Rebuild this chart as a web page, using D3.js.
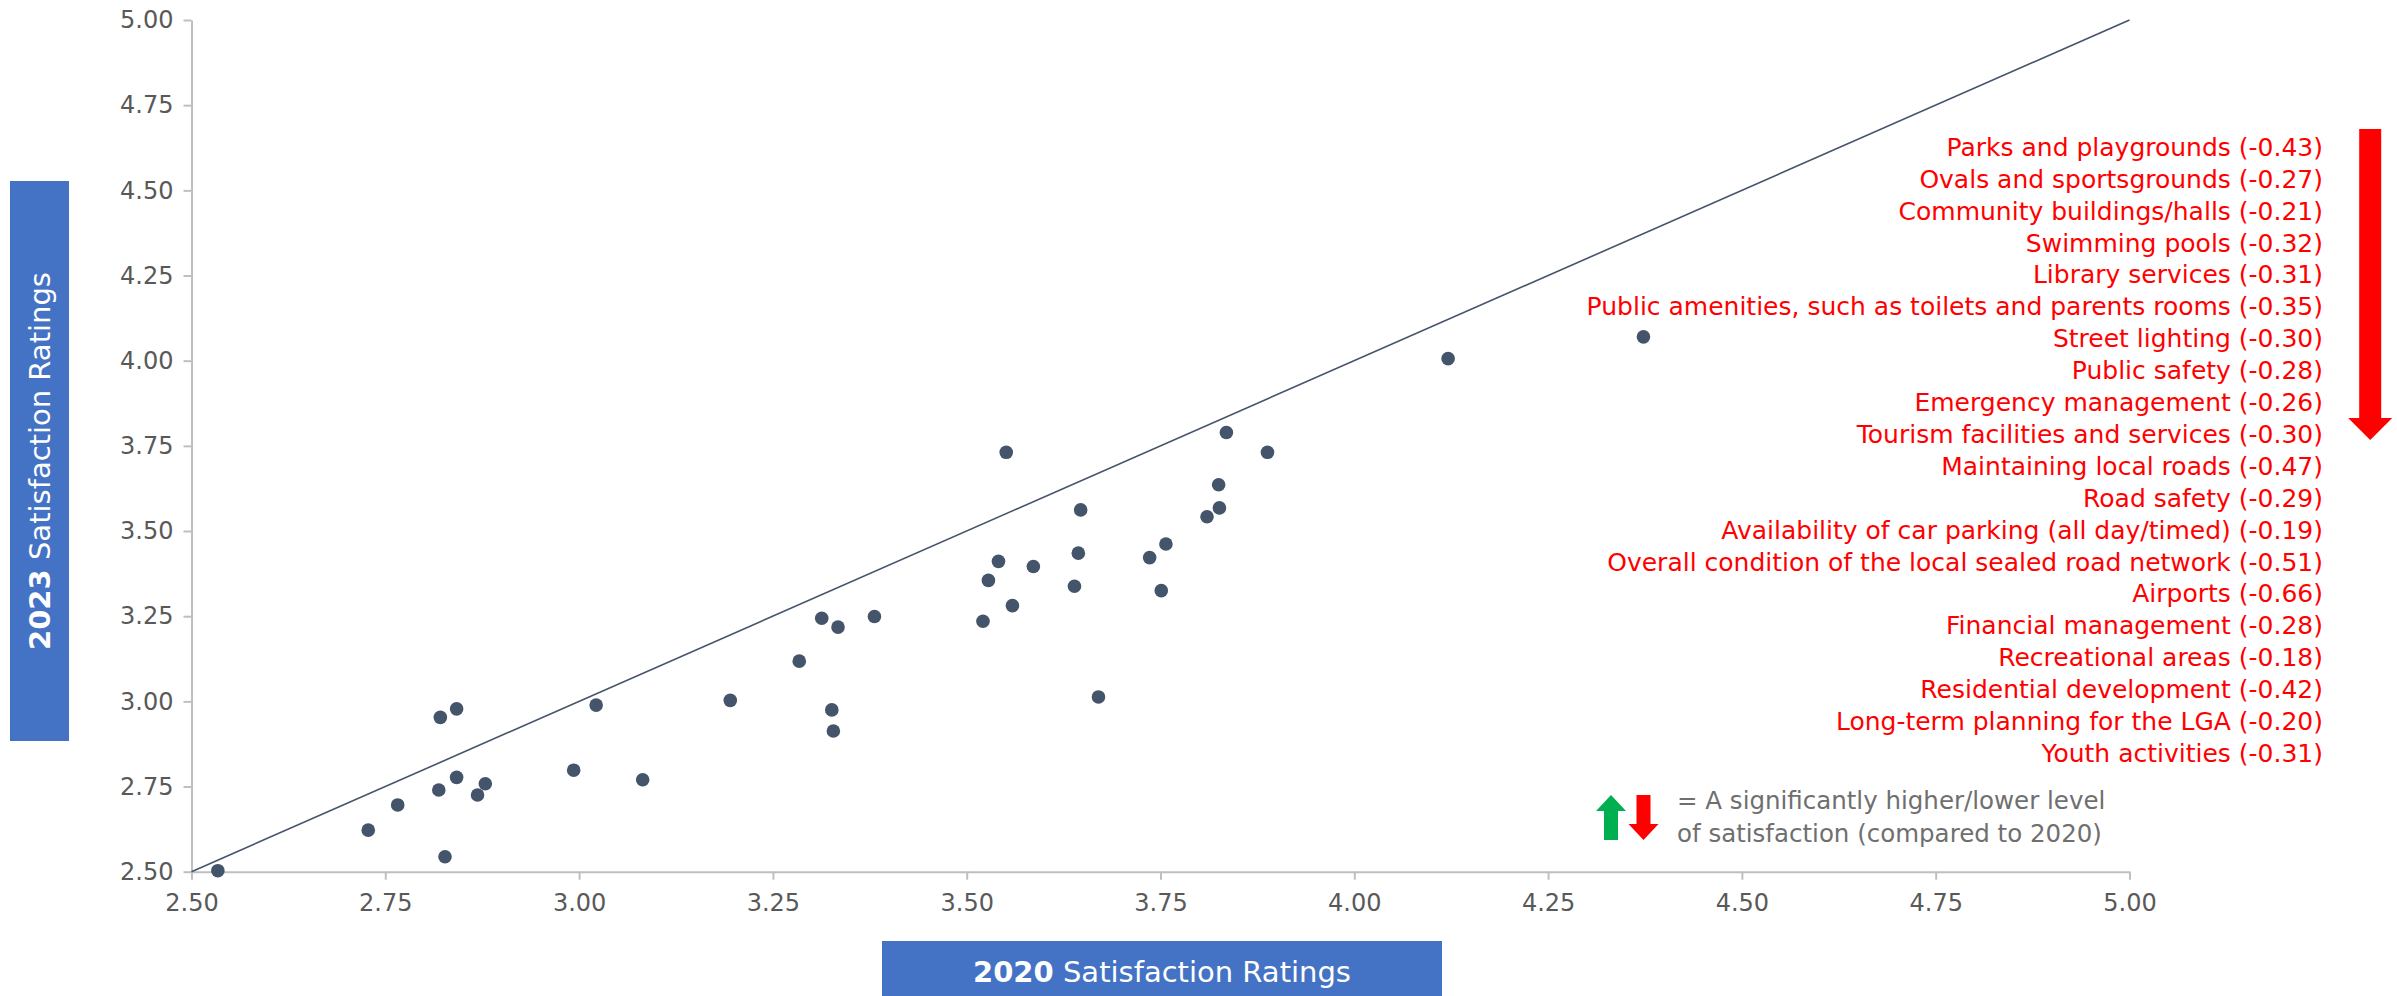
<!DOCTYPE html>
<html>
<head>
<meta charset="utf-8">
<script src="https://cdn.jsdelivr.net/npm/d3@7"></script>
<style>
  html, body { margin: 0; padding: 0; background: #ffffff; }
  svg { display: block; }
  text { font-family: "DejaVu Sans", "Liberation Sans", sans-serif; }
</style>
</head>
<body>
<svg id="chart" width="2397" height="996"></svg>
<script>
// 2020 vs 2023 satisfaction ratings for each council service area
const rating2020 = [
  2.534, 2.728, 2.766, 2.821, 2.842, 2.819, 2.842, 2.827, 2.869, 2.879,
  2.993, 3.022, 3.082, 3.195, 3.284, 3.313, 3.334, 3.381, 3.326, 3.328,
  3.521, 3.528, 3.541, 3.551, 3.559, 3.586, 3.639, 3.644, 3.647, 3.670,
  3.736, 3.757, 3.751, 3.810, 3.826, 3.825, 3.835, 3.888, 4.121, 4.373
];
const rating2023 = [
  2.503, 2.622, 2.696, 2.953, 2.978, 2.740, 2.777, 2.544, 2.725, 2.758,
  2.798, 2.989, 2.770, 3.003, 3.118, 3.244, 3.218, 3.249, 2.975, 2.913,
  3.235, 3.355, 3.411, 3.731, 3.281, 3.396, 3.338, 3.435, 3.562, 3.013,
  3.422, 3.462, 3.325, 3.542, 3.568, 3.636, 3.789, 3.731, 4.006, 4.070
];

// Axis ticks (both axes share the same scale)
const tickValues = [2.5, 2.75, 3.0, 3.25, 3.5, 3.75, 4.0, 4.25, 4.5, 4.75, 5.0];

// Services with a significantly lower level of satisfaction, and the change
const declineServices = [
  "Parks and playgrounds",
  "Ovals and sportsgrounds",
  "Community buildings/halls",
  "Swimming pools",
  "Library services",
  "Public amenities, such as toilets and parents rooms",
  "Street lighting",
  "Public safety",
  "Emergency management",
  "Tourism facilities and services",
  "Maintaining local roads",
  "Road safety",
  "Availability of car parking (all day/timed)",
  "Overall condition of the local sealed road network",
  "Airports",
  "Financial management",
  "Recreational areas",
  "Residential development",
  "Long-term planning for the LGA",
  "Youth activities"
];
const declineChanges = [
  -0.43, -0.27, -0.21, -0.32, -0.31, -0.35, -0.30, -0.28, -0.26, -0.30,
  -0.47, -0.29, -0.19, -0.51, -0.66, -0.28, -0.18, -0.42, -0.20, -0.31
];

const legendLines = [
  "= A significantly higher/lower level",
  "of satisfaction (compared to 2020)"
];

const points = rating2020.map((v, i) => ({ x: v, y: rating2023[i] }));

const svg = d3.select("#chart");
const navy = "#44546A";
const axisGrey = "#BFBFBF";
const labelGrey = "#595959";
const titleBlue = "#4472C4";
const red = "#FF0000";

const x = d3.scaleLinear().domain([2.5, 5]).range([191.5, 2129.5]);
const y = d3.scaleLinear().domain([2.5, 5]).range([871.7, 20]);

// Axes
const xAxis = svg.append("g")
  .attr("transform", `translate(0,${y(2.5)})`)
  .call(d3.axisBottom(x).tickValues(tickValues).tickFormat(d3.format(".2f")).tickSize(8).tickSizeOuter(0));
const yAxis = svg.append("g")
  .attr("transform", `translate(${x(2.5)},0)`)
  .call(d3.axisLeft(y).tickValues(tickValues).tickFormat(d3.format(".2f")).tickSize(8).tickSizeOuter(0));

[xAxis, yAxis].forEach(g => {
  g.select(".domain").attr("stroke", axisGrey).attr("stroke-width", 2);
  g.selectAll(".tick line").attr("stroke", axisGrey).attr("stroke-width", 2);
  g.selectAll(".tick text")
    .attr("fill", labelGrey)
    .style("font-size", "24px")
    .style("font-family", "'DejaVu Sans', sans-serif");
});
xAxis.selectAll(".tick text").attr("y", 22);
yAxis.selectAll(".tick text").attr("x", -18);

// Reference line: equal ratings in both years
svg.append("line")
  .attr("x1", x(2.5)).attr("y1", y(2.5))
  .attr("x2", x(5)).attr("y2", y(5))
  .attr("stroke", navy)
  .attr("stroke-width", 1.6);

// Service points
svg.append("g")
  .selectAll("circle")
  .data(points)
  .join("circle")
  .attr("cx", d => x(d.x))
  .attr("cy", d => y(d.y))
  .attr("r", 6.8)
  .attr("fill", navy);

// Significant decline labels (plain hyphen for the sign)
const fmtChange = v => (v < 0 ? "-" : "+") + Math.abs(v).toFixed(2);
svg.append("g")
  .selectAll("text")
  .data(declineServices)
  .join("text")
  .attr("x", 2323)
  .attr("y", (d, i) => 146.8 + i * 31.9)
  .attr("dy", "0.36em")
  .attr("text-anchor", "end")
  .attr("fill", red)
  .style("font-size", "25px")
  .text((d, i) => `${d} (${fmtChange(declineChanges[i])})`);

// Block arrows
function downArrow(cx, top, tip, shaftW, headW, headH) {
  const hs = shaftW / 2, hh = headW / 2;
  return `M${cx - hs},${top} L${cx + hs},${top} L${cx + hs},${tip - headH} L${cx + hh},${tip - headH}
          L${cx},${tip} L${cx - hh},${tip - headH} L${cx - hs},${tip - headH} Z`;
}
function upArrow(cx, top, bottom, shaftW, headW, headH) {
  const hs = shaftW / 2, hh = headW / 2;
  return `M${cx},${top} L${cx + hh},${top + headH} L${cx + hs},${top + headH} L${cx + hs},${bottom}
          L${cx - hs},${bottom} L${cx - hs},${top + headH} L${cx - hh},${top + headH} Z`;
}

// Big downward arrow beside the decline list
svg.append("path")
  .attr("d", downArrow(2370.2, 129, 440, 22, 44, 22))
  .attr("fill", red);

// Legend
svg.append("path")
  .attr("d", upArrow(1611, 795, 840, 14, 30, 16))
  .attr("fill", "#00B050");
svg.append("path")
  .attr("d", downArrow(1643.5, 795, 840, 14, 30, 16))
  .attr("fill", red);
svg.append("g")
  .selectAll("text")
  .data(legendLines)
  .join("text")
  .attr("x", 1677)
  .attr("y", (d, i) => 800 + i * 33)
  .attr("dy", "0.36em")
  .attr("fill", "#6F6F6F")
  .style("font-size", "24.5px")
  .text(d => d);

// Axis title boxes
svg.append("rect")
  .attr("x", 10).attr("y", 181).attr("width", 59).attr("height", 560)
  .attr("fill", titleBlue);
const yTitle = svg.append("text")
  .attr("transform", "translate(39.5,461) rotate(-90)")
  .attr("text-anchor", "middle")
  .attr("dy", "0.36em")
  .attr("fill", "#ffffff")
  .style("font-size", "29px");
yTitle.append("tspan").attr("font-weight", "bold").text("2023");
yTitle.append("tspan").text(" Satisfaction Ratings");

svg.append("rect")
  .attr("x", 882).attr("y", 941).attr("width", 560).attr("height", 60)
  .attr("fill", titleBlue);
const xTitle = svg.append("text")
  .attr("x", 1162).attr("y", 972)
  .attr("text-anchor", "middle")
  .attr("dy", "0.36em")
  .attr("fill", "#ffffff")
  .style("font-size", "29px");
xTitle.append("tspan").attr("font-weight", "bold").text("2020");
xTitle.append("tspan").text(" Satisfaction Ratings");
</script>
</body>
</html>
